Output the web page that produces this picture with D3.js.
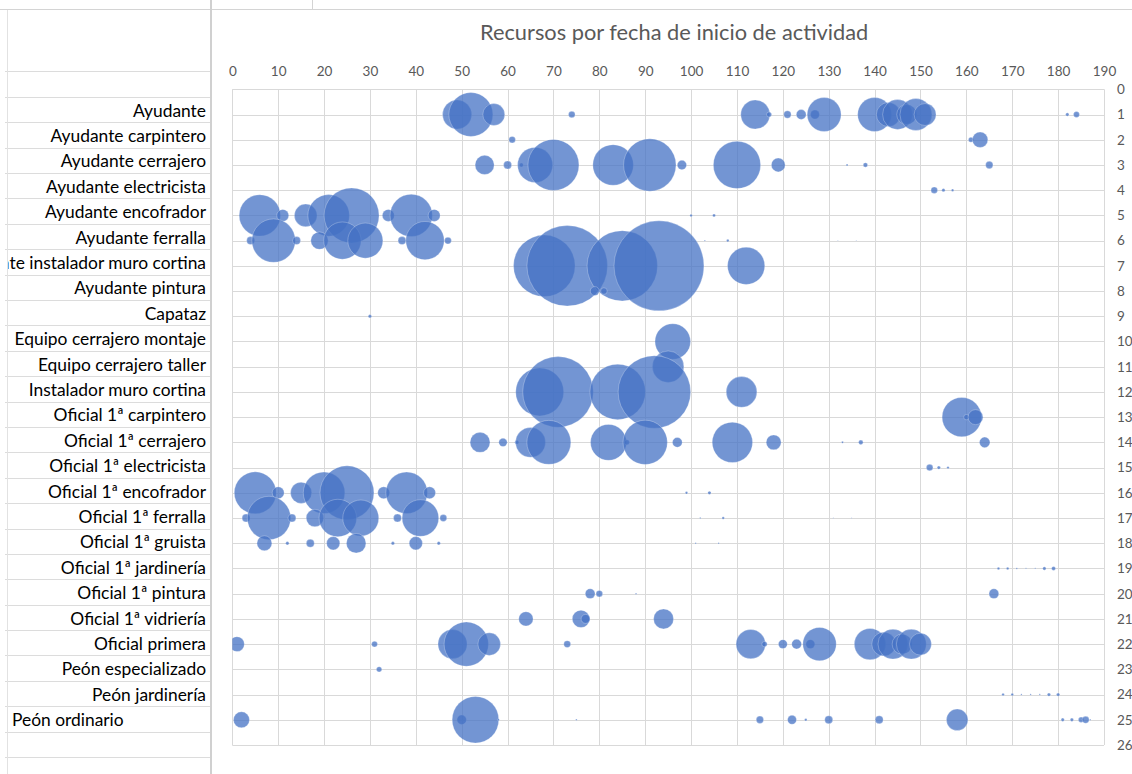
<html>
<head>
<script src="https://d3js.org/d3.v7.min.js"></script>
<style>
body { margin: 0; background: #fff; }
svg { display: block; font-family: Lato, "Noto Sans", sans-serif; }
</style>
</head>
<body>
<script>
// row labels (spreadsheet column) and chart data
const roles = ["Ayudante", "Ayudante carpintero", "Ayudante cerrajero", "Ayudante electricista",
  "Ayudante encofrador", "Ayudante ferralla", "Ayudante instalador muro cortina", "Ayudante pintura",
  "Capataz", "Equipo cerrajero montaje", "Equipo cerrajero taller", "Instalador muro cortina",
  "Oficial 1ª carpintero", "Oficial 1ª cerrajero", "Oficial 1ª electricista", "Oficial 1ª encofrador",
  "Oficial 1ª ferralla", "Oficial 1ª gruista", "Oficial 1ª jardinería", "Oficial 1ª pintura",
  "Oficial 1ª vidriería", "Oficial primera", "Peón especializado", "Peón jardinería", "Peón ordinario"];

// start day of each bubble, one list per role
const startDay = [
  [49, 52, 57, 74, 114, 117, 121, 124, 127, 129, 140, 143, 145, 147, 149, 151, 182, 184],
  [61, 161, 163],
  [55, 60, 63, 66, 70, 83, 91, 98, 110, 119, 134, 138, 165],
  [153, 155, 157],
  [6, 11, 16, 21, 26, 34, 39, 44, 100, 105],
  [4, 9, 14, 19, 24, 29, 37, 42, 47, 103, 108, 132, 136],
  [68, 73, 85, 93, 112],
  [79, 81],
  [30],
  [96],
  [95],
  [67, 71, 84, 92, 111],
  [159, 160, 162],
  [54, 59, 62, 65, 69, 82, 86, 90, 97, 109, 118, 133, 137, 164],
  [152, 154, 156],
  [5, 10, 15, 20, 25, 33, 38, 43, 99, 104],
  [3, 8, 13, 18, 23, 28, 36, 41, 46, 102, 107, 131, 135],
  [7, 12, 17, 22, 27, 35, 40, 45, 101, 106],
  [167, 169, 171, 173, 175, 177, 179],
  [78, 80, 88, 166],
  [64, 76, 77, 94],
  [1, 31, 48, 51, 56, 73, 113, 116, 120, 123, 126, 128, 139, 142, 144, 146, 148, 150],
  [32],
  [168, 170, 172, 174, 176, 178, 180],
  [2, 50, 53, 58, 75, 115, 122, 125, 130, 141, 158, 181, 183, 185, 186, 187]
];

// bubble size (resources), same shape as startDay
const amount = [
  [53, 121, 30, 2.7, 53, 1.6, 3.4, 6, 5, 72, 72, 36, 56, 25, 64, 30, 0.7, 2.2],
  [2.7, 1.6, 15],
  [23, 4, 1, 77, 163, 103, 172, 5.5, 140, 12, 0.25, 1.3, 3.4],
  [2.7, 0.7, 0.36],
  [107, 9, 32, 108, 189, 9, 112, 9, 0.4, 0.55],
  [4, 118, 4, 19, 87, 77, 4, 92, 3, 0.12, 0.4, 0.06, 0.06],
  [237, 406, 310, 506, 87],
  [5, 2.7],
  [0.7],
  [79],
  [62],
  [144, 312, 193, 329, 59],
  [97, 1.8, 14],
  [25, 4.4, 1, 56, 121, 81, 1.6, 123, 6, 102, 14, 0.25, 1.3, 7],
  [2.7, 0.7, 0.36],
  [110, 9, 28, 108, 182, 9, 108, 9, 0.4, 0.7],
  [4, 118, 4, 19, 88, 81, 4, 84, 3, 0.12, 0.4, 0.06, 0.06],
  [14, 0.7, 4, 11, 24, 0.7, 11, 0.7, 0.12, 0.12],
  [0.4, 0.4, 0.16, 0.09, 0.09, 0.7, 1],
  [6, 2.7, 0.16, 6],
  [13, 19, 5, 25],
  [14, 2.2, 53, 123, 32, 3, 54, 1.8, 5, 6, 5, 70, 62, 36, 56, 25, 56, 30],
  [1.8],
  [0.4, 0.4, 0.12, 0.12, 0.12, 0.7, 0.7],
  [16, 5.5, 136, 0.25, 0.16, 3.4, 5, 0.4, 4, 4, 29, 0.7, 0.7, 1.8, 3, 0.12]
];

const xTicks = d3.range(0, 191, 10);
const yTicks = d3.range(0, 27, 1);
const title = "Recursos por fecha de inicio de actividad";

const width = 1132, height = 774;
const plot = {left: 232.3, right: 1104, top: 89.3, bottom: 745};
const rowTop = 71.3, rowH = 25.4;
const grid = "#d9d9d9";

let svg = d3.select("body").append("svg")
  .attr("width", width).attr("height", height);

// --- spreadsheet behind the chart ---
let sheet = svg.append("g");
sheet.append("line").attr("x1", 0).attr("x2", width).attr("y1", 9.5).attr("y2", 9.5)
  .attr("stroke", "#d4d4d4");
sheet.append("line").attr("x1", 312.5).attr("x2", 312.5).attr("y1", 0).attr("y2", 9)
  .attr("stroke", "#d4d4d4");
sheet.selectAll("line.row")
  .data(d3.range(0, 28))
  .enter().append("line")
  .attr("class", "row")
  .attr("x1", 5).attr("x2", 210)
  .attr("y1", i => Math.round(rowTop + i * rowH) + 0.5)
  .attr("y2", i => Math.round(rowTop + i * rowH) + 0.5)
  .attr("stroke", "#dcdcdc");
sheet.append("line").attr("x1", 7.5).attr("x2", 7.5).attr("y1", 10).attr("y2", height)
  .attr("stroke", "#e2e2e2");
sheet.append("line").attr("x1", 211).attr("x2", 211).attr("y1", 0).attr("y2", height)
  .attr("stroke", "#d0d0d0").attr("stroke-width", 2);

svg.append("clipPath").attr("id", "cellclip")
  .append("rect").attr("x", 8).attr("y", 0).attr("width", 202).attr("height", height);

sheet.append("g").attr("clip-path", "url(#cellclip)")
  .selectAll("text")
  .data(roles)
  .enter().append("text")
  .attr("x", (d, i) => i == roles.length - 1 ? 12 : 206)
  .attr("y", (d, i) => rowTop + (i + 1) * rowH + rowH / 2 + 1.5)
  .attr("dy", "0.33em")
  .attr("text-anchor", (d, i) => i == roles.length - 1 ? "start" : "end")
  .attr("font-size", "17.4px")
  .attr("fill", "#000")
  .text(d => d);

// --- chart ---
let x = d3.scaleLinear().domain([0, 190]).range([plot.left, plot.right]);
let y = d3.scaleLinear().domain([0, 26]).range([plot.top, plot.bottom]);
let r = d3.scaleSqrt().domain([0, 500]).range([0, 44.7]);

svg.append("text")
  .attr("x", (plot.left + plot.right) / 2 + 6)
  .attr("y", 40)
  .attr("text-anchor", "middle")
  .attr("font-size", "21.8px")
  .attr("fill", "#595959")
  .text(title);

let g = svg.append("g");
g.selectAll("line.v")
  .data(xTicks)
  .enter().append("line")
  .attr("x1", d => Math.round(x(d)) + 0.5).attr("x2", d => Math.round(x(d)) + 0.5)
  .attr("y1", plot.top).attr("y2", plot.bottom)
  .attr("stroke", grid);
g.selectAll("line.h")
  .data(yTicks)
  .enter().append("line")
  .attr("x1", plot.left).attr("x2", plot.right)
  .attr("y1", d => Math.round(y(d)) + 0.5).attr("y2", d => Math.round(y(d)) + 0.5)
  .attr("stroke", grid);

// top axis
let xAxis = svg.append("g")
  .attr("transform", "translate(0," + (plot.top - 13) + ")")
  .call(d3.axisTop(x).tickValues(xTicks).tickSize(0).tickPadding(0));
xAxis.select(".domain").remove();
xAxis.selectAll("text").attr("font-size", "13.5px").attr("fill", "#595959")
  .attr("font-family", "Lato, sans-serif");

// right axis
let yAxis = svg.append("g")
  .attr("transform", "translate(" + (plot.right + 13) + ",0)")
  .call(d3.axisRight(y).tickValues(yTicks).tickSize(0).tickPadding(0));
yAxis.select(".domain").remove();
yAxis.selectAll("text").attr("font-size", "13.5px").attr("fill", "#595959")
  .attr("font-family", "Lato, sans-serif");

svg.append("clipPath").attr("id", "plotclip")
  .append("rect").attr("x", plot.left).attr("y", plot.top)
  .attr("width", plot.right - plot.left).attr("height", plot.bottom - plot.top);

let bubbles = [];
roles.forEach(function(role, i) {
  startDay[i].forEach(function(day, j) {
    bubbles.push({role: role, row: i + 1, day: day, amount: amount[i][j]});
  });
});

svg.append("g").attr("clip-path", "url(#plotclip)")
  .selectAll("circle")
  .data(bubbles)
  .enter().append("circle")
  .attr("cx", d => x(d.day))
  .attr("cy", d => y(d.row))
  .attr("r", d => r(d.amount))
  .attr("fill", "#4472c4")
  .attr("fill-opacity", 0.75)
  .attr("stroke", "#ffffff")
  .attr("stroke-opacity", 0.35)
  .attr("stroke-width", 0.75);
</script>
</body>
</html>
